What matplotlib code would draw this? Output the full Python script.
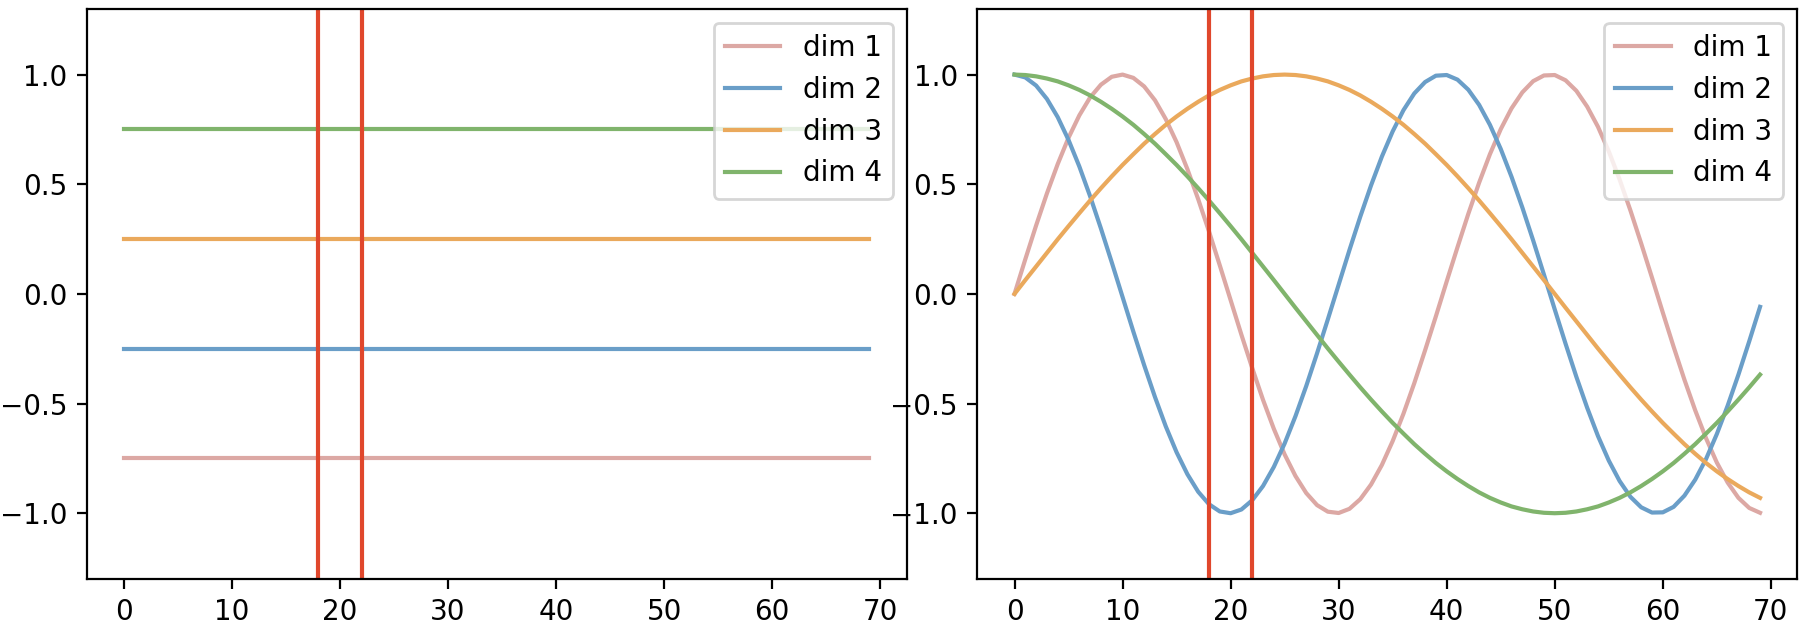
import matplotlib
matplotlib.use("Agg")
import matplotlib.pyplot as plt

# positions 0..69
positions = list(range(70))

labels = ["dim 1", "dim 2", "dim 3", "dim 4"]
colors = ["#dca8a4", "#6a9ec8", "#eaa95c", "#80b46c"]
marker_color = "#e0472c"
marker_positions = [18, 22]

# left panel: constant level per dim
levels = [-0.75, -0.25, 0.25, 0.75]

# right panel: values at each position
dim1 = [0.000, 0.158, 0.312, 0.458, 0.592, 0.712, 0.814, 0.896, 0.954, 0.990,
        1.000, 0.985, 0.946, 0.883, 0.797, 0.692, 0.569, 0.432, 0.285, 0.130,
        -0.028, -0.186, -0.338, -0.483, -0.615, -0.732, -0.830, -0.908, -0.963, -0.993,
        -0.999, -0.980, -0.936, -0.869, -0.780, -0.671, -0.546, -0.407, -0.257, -0.102,
        0.057, 0.213, 0.365, 0.507, 0.637, 0.751, 0.846, 0.919, 0.970, 0.996,
        0.998, 0.974, 0.926, 0.854, 0.762, 0.650, 0.522, 0.381, 0.230, 0.074,
        -0.085, -0.241, -0.391, -0.531, -0.658, -0.769, -0.860, -0.930, -0.976, -0.998]
dim2 = [1.000, 0.987, 0.950, 0.889, 0.806, 0.702, 0.581, 0.445, 0.298, 0.144,
        -0.014, -0.172, -0.325, -0.470, -0.604, -0.722, -0.822, -0.902, -0.959, -0.992,
        -1.000, -0.983, -0.941, -0.876, -0.789, -0.682, -0.558, -0.420, -0.271, -0.116,
        0.042, 0.200, 0.352, 0.495, 0.626, 0.741, 0.838, 0.914, 0.966, 0.995,
        0.998, 0.977, 0.931, 0.862, 0.771, 0.661, 0.534, 0.394, 0.244, 0.088,
        -0.071, -0.227, -0.378, -0.519, -0.648, -0.760, -0.853, -0.925, -0.973, -0.997,
        -0.996, -0.971, -0.920, -0.847, -0.753, -0.639, -0.510, -0.368, -0.216, -0.059]
dim3 = [0.000, 0.063, 0.125, 0.187, 0.249, 0.309, 0.368, 0.426, 0.482, 0.536,
        0.588, 0.637, 0.685, 0.729, 0.771, 0.809, 0.844, 0.876, 0.905, 0.930,
        0.951, 0.969, 0.982, 0.992, 0.998, 1.000, 0.998, 0.992, 0.982, 0.969,
        0.951, 0.930, 0.905, 0.876, 0.844, 0.809, 0.771, 0.729, 0.685, 0.637,
        0.588, 0.536, 0.482, 0.426, 0.368, 0.309, 0.249, 0.187, 0.125, 0.063,
        0.000, -0.063, -0.125, -0.187, -0.249, -0.309, -0.368, -0.426, -0.482, -0.536,
        -0.588, -0.637, -0.685, -0.729, -0.771, -0.809, -0.844, -0.876, -0.905, -0.930]
dim4 = [1.000, 0.998, 0.992, 0.982, 0.969, 0.951, 0.930, 0.905, 0.876, 0.844,
        0.809, 0.771, 0.729, 0.685, 0.637, 0.588, 0.536, 0.482, 0.426, 0.368,
        0.309, 0.249, 0.187, 0.125, 0.063, 0.000, -0.063, -0.125, -0.187, -0.249,
        -0.309, -0.368, -0.426, -0.482, -0.536, -0.588, -0.637, -0.685, -0.729, -0.771,
        -0.809, -0.844, -0.876, -0.905, -0.930, -0.951, -0.969, -0.982, -0.992, -0.998,
        -1.000, -0.998, -0.992, -0.982, -0.969, -0.951, -0.930, -0.905, -0.876, -0.844,
        -0.809, -0.771, -0.729, -0.685, -0.637, -0.588, -0.536, -0.482, -0.426, -0.368]
curves = [dim1, dim2, dim3, dim4]

fig, (ax1, ax2) = plt.subplots(1, 2, figsize=(9.02, 3.14), dpi=200)
fig.subplots_adjust(left=0.048, right=0.9963, bottom=0.078, top=0.986, wspace=0.086)

for lvl, lab, c in zip(levels, labels, colors):
    ax1.plot(positions, [lvl] * len(positions), color=c, lw=1.5, label=lab)

for vals, lab, c in zip(curves, labels, colors):
    ax2.plot(positions, vals, color=c, lw=1.5, label=lab)

for ax in (ax1, ax2):
    for p in marker_positions:
        ax.axvline(p, color=marker_color, lw=1.5)
    ax.set_ylim(-1.3, 1.3)
    ax.set_yticks([-1.0, -0.5, 0.0, 0.5, 1.0])
    ax.set_xticks(range(0, 71, 10))
    ax.tick_params(labelsize=10)
    ax.legend(loc="upper right", fontsize=10)

fig.savefig("out.png", dpi=200)
